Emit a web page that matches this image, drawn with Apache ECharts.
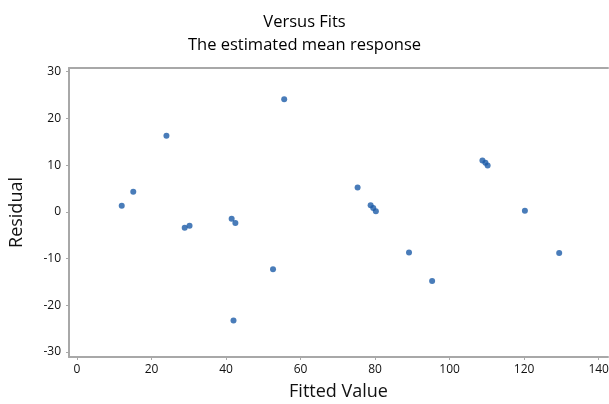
<!DOCTYPE html>
<html>
<head>
<meta charset="utf-8">
<script src="https://cdn.jsdelivr.net/npm/echarts@6/dist/echarts.min.js"></script>
<style>html,body{margin:0;padding:0;background:#fff}#c{width:609px;height:404px}</style>
</head>
<body>
<div id="c"></div>
<script>
var fittedValues = [12.0, 15.1, 24.0, 28.9, 30.2, 41.5, 42.5, 42.0, 52.6, 55.6, 75.3, 78.8, 79.5, 80.2, 89.1, 95.3, 108.8, 109.6, 110.2, 120.2, 129.4];
var residuals    = [1.3, 4.3, 16.3, -3.4, -3.0, -1.5, -2.4, -23.3, -12.3, 24.1, 5.2, 1.4, 0.8, 0.1, -8.7, -14.8, 11.0, 10.5, 9.9, 0.2, -8.8];
var xTicks = [0, 20, 40, 60, 80, 100, 120, 140];
var yTicks = [-30, -20, -10, 0, 10, 20, 30];

var pts = fittedValues.map(function (x, i) { return [x, residuals[i]]; });
var font = '"Open Sans", "Liberation Sans", sans-serif';
var chart = echarts.init(document.getElementById('c'), null, {renderer: 'canvas'});
chart.setOption({
  animation: false,
  title: {
    text: 'Versus Fits\nThe estimated mean response',
    left: 'center', top: 6,
    textStyle: {fontFamily: font, fontSize: 16.5, fontWeight: 'normal', color: '#000', lineHeight: 23}
  },
  grid: {left: 69, top: 68, right: 1, bottom: 47, containLabel: false, outerBoundsMode: 'none'},
  xAxis: [{
    type: 'value', min: -2.15, max: 142.5, position: 'bottom',
    name: 'Fitted Value', nameLocation: 'middle', nameGap: 26,
    nameTextStyle: {fontFamily: font, fontSize: 18, color: '#111'},
    splitLine: {show: false},
    axisLine: {show: true, onZero: false, lineStyle: {color: '#a8a8a8', width: 2}},
    axisTick: {show: true, customValues: xTicks, length: 3, lineStyle: {color: '#a8a8a8'}},
    axisLabel: {customValues: xTicks, fontFamily: font, fontSize: 12, color: '#111', margin: 7}
  }, {
    type: 'value', min: -2.15, max: 142.5, position: 'top',
    splitLine: {show: false},
    axisLine: {show: true, onZero: false, lineStyle: {color: '#a8a8a8', width: 2}},
    axisTick: {show: false}, axisLabel: {show: false}
  }],
  yAxis: {
    type: 'value', min: -31.1, max: 30.8, position: 'left',
    name: 'Residual', nameLocation: 'middle', nameGap: 43, nameRotate: 90,
    nameTextStyle: {fontFamily: font, fontSize: 18, color: '#111'},
    splitLine: {show: false},
    axisLine: {show: true, onZero: false, lineStyle: {color: '#a8a8a8', width: 2}},
    axisTick: {show: true, customValues: yTicks, length: 3, lineStyle: {color: '#a8a8a8'}},
    axisLabel: {customValues: yTicks, fontFamily: font, fontSize: 12, color: '#111', margin: 8}
  },
  series: [{
    type: 'scatter', data: pts, symbol: 'circle', symbolSize: 6,
    itemStyle: {color: '#1c5ba8'}
  }]
});
</script>
</body>
</html>
